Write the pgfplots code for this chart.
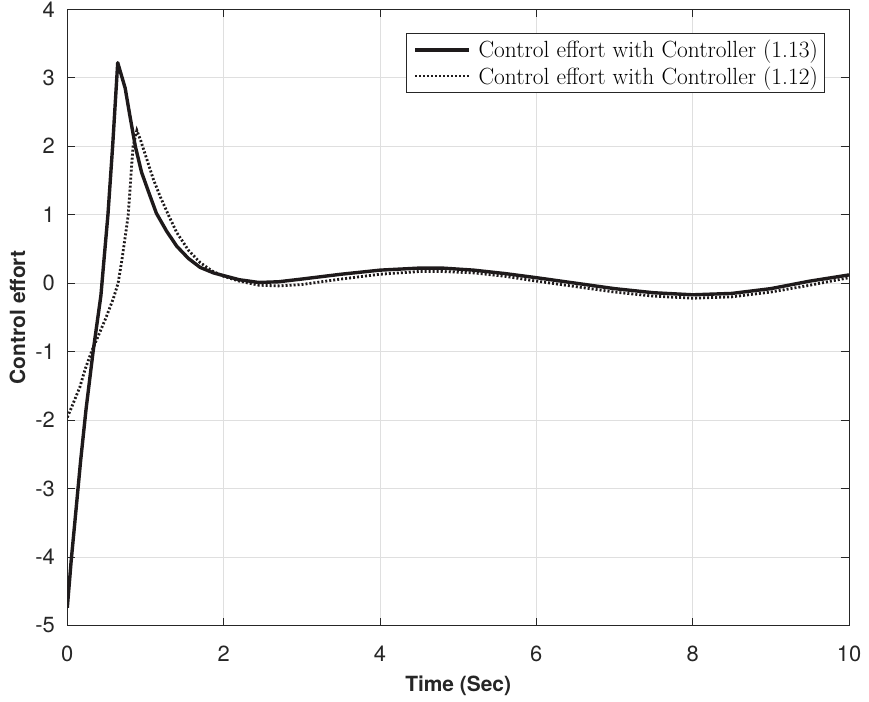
\documentclass[border=0pt]{standalone}
\usepackage{fontspec}
\usepackage{pgfplots}
\pgfplotsset{compat=1.18}
\newfontfamily\hel{TeX Gyre Heros}
\definecolor{axgray}{RGB}{38,38,38}
\definecolor{gridc}{RGB}{223,223,223}
\definecolor{linec}{RGB}{30,26,27}
\begin{document}
\begin{tikzpicture}
\begin{axis}[
  name=ax,
  at={(0,0)}, anchor=south west,
  scale only axis,
  width=781.7bp, height=616.2bp,
  xmin=0, xmax=10, ymin=-5, ymax=4,
  xtick={0,2,4,6,8,10}, xticklabels={0,2,4,6,8,10},
  ytick={-5,-4,-3,-2,-1,0,1,2,3,4},
  yticklabels={-5,-4,-3,-2,-1,0,1,2,3,4},
  tick align=inside,
  major tick length=7.7bp,
  axis line style={draw=axgray, line width=0.9bp},
  every tick/.style={draw=axgray, line width=0.9bp},
  grid=major,
  major grid style={draw=gridc, line width=0.9bp},
  ticklabel style={font=\hel\fontsize{22}{26}\selectfont, text=axgray, inner sep=0pt},
  xticklabel style={anchor=base, yshift=-36.5bp},
  yticklabel style={anchor=east, xshift=-12.3bp},
  xlabel={\bfseries Time (Sec)},
  ylabel={\bfseries Control effort},
  label style={font=\hel\fontsize{21}{25}\selectfont, text=axgray, inner sep=0pt},
  xlabel style={at={(axis description cs:0.5,-0.1079)}, anchor=base},
  ylabel style={at={(axis description cs:-0.0541,0.5)}, anchor=base, rotate=0},
  legend image code/.code={\draw[#1] (0bp,0bp) -- (54.3bp,0bp);},
  legend style={at={(axis description cs:1,1)}, anchor=north east,
    xshift=-24bp, yshift=-24bp,
    draw=axgray, line width=0.9bp, fill=white,
    font=\fontsize{23.5}{27}\selectfont,
    inner xsep=6.7bp, inner ysep=3bp, row sep=0bp,
    nodes={inner xsep=0pt, inner ysep=3.6bp},
    cells={anchor=west},
    /tikz/every odd column/.append style={column sep=7.4bp}},
]
\addplot[draw=linec, line width=3.4bp, line join=round] coordinates {
(0,-4.74) (0.05,-4.05) (0.1,-3.45) (0.17,-2.6) (0.24,-1.84) (0.33,-1.0) (0.43,-0.18)
(0.47,0.35) (0.52,1.0) (0.58,2.0) (0.645,3.22) (0.74,2.85) (0.8,2.45) (0.87,2.0) (0.95,1.62) (1.05,1.3) (1.14,1.02) (1.27,0.76)
(1.4,0.54) (1.55,0.36) (1.7,0.23) (1.87,0.15) (2.0,0.11) (2.2,0.05) (2.45,0.01) (2.7,0.02)
(3.0,0.06) (3.5,0.13) (4.0,0.19) (4.5,0.22) (4.8,0.22) (5.2,0.19) (5.6,0.14)
(6.0,0.08) (6.5,0.0) (7.0,-0.08) (7.5,-0.14) (8.0,-0.17) (8.5,-0.15) (9.0,-0.08)
(9.5,0.03) (10,0.12)
};
\addlegendentry{Control effort with Controller (1.13)}
\addplot[draw=linec, line width=2.8bp, dash pattern=on 2bp off 2bp] coordinates {
(0,-1.96) (0.056,-1.81) (0.16,-1.52) (0.23,-1.25) (0.31,-1.0) (0.4,-0.76) (0.5,-0.49)
(0.59,-0.22) (0.65,0.0) (0.7,0.35) (0.75,0.75) (0.78,1.0) (0.81,1.5) (0.84,1.99) (0.89,2.23) (0.94,2.08)
(1.02,1.8) (1.1,1.52) (1.19,1.26) (1.3,0.98) (1.4,0.74) (1.55,0.48) (1.7,0.3)
(1.85,0.18) (2.0,0.1) (2.2,0.03) (2.45,-0.03) (2.7,-0.04) (3.0,-0.02) (3.5,0.06)
(4.0,0.13) (4.5,0.17) (4.8,0.17) (5.2,0.15) (5.6,0.1) (6.0,0.03) (6.5,-0.05)
(7.0,-0.13) (7.5,-0.19) (8.0,-0.22) (8.5,-0.2) (9.0,-0.13) (9.5,-0.03) (10,0.08)
};
\addlegendentry{Control effort with Controller (1.12)}
\end{axis}
\pgfresetboundingbox
\path ([shift={(-67.3bp,-76.5bp)}]ax.south west) rectangle ([shift={(20bp,9.3bp)}]ax.north east);
\end{tikzpicture}
\end{document}
